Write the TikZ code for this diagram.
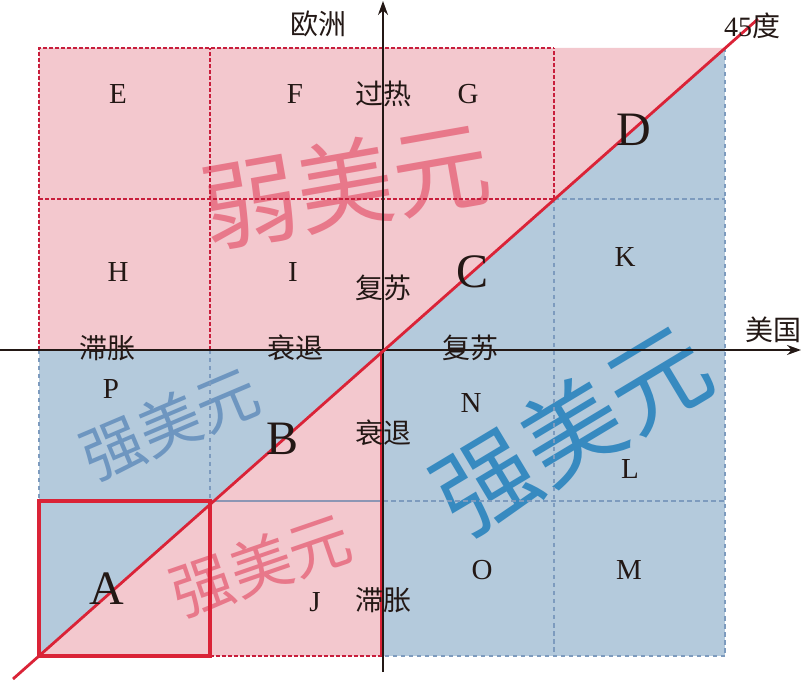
\documentclass[tikz,border=0pt]{standalone}
\usepackage{fontspec}
\setmainfont{Liberation Serif}
\newfontfamily\cjk{Noto Sans CJK SC}
\usetikzlibrary{arrows.meta}
\definecolor{pinkbg}{RGB}{243,200,206}
\definecolor{bluebg}{RGB}{180,202,220}
\definecolor{redline}{RGB}{218,35,55}
\definecolor{reddash}{RGB}{200,30,60}
\definecolor{bluedash}{RGB}{125,155,190}
\definecolor{greyline}{RGB}{140,150,180}
\definecolor{pinkmark}{RGB}{232,120,138}
\definecolor{bluemark}{RGB}{110,150,192}
\definecolor{bigmark}{RGB}{55,138,192}
\definecolor{ink}{RGB}{35,24,21}

\begin{document}
\begin{tikzpicture}[x=1pt,y=1pt,
  rgrid/.style={reddash,dash pattern=on 3.5pt off 2.5pt,line width=1.6pt},
  bgrid/.style={bluedash,dash pattern=on 4.5pt off 3.5pt,line width=1.5pt},
  lbl/.style={font=\fontsize{29}{29}\selectfont,text=ink,inner sep=0pt},
  biglbl/.style={font=\fontsize{48}{48}\selectfont,text=ink,inner sep=0pt},
  cn/.style={font=\cjk\fontsize{28}{28}\selectfont,text=ink,inner sep=0pt},
  wmark/.style={font=\cjk\fontsize{#1}{#1}\selectfont,inner sep=0pt},
  axis/.style={ink,line width=1.6pt,-{Stealth[length=14pt,width=10pt]}}]
\useasboundingbox (0,0) rectangle (803,680);
% background
\fill[bluebg] (39,24) rectangle (725,632);
\fill[pinkbg] (39,632) -- (725,632) -- (383,330) -- (39,330) -- cycle;
\fill[pinkbg] (383,330) -- (383,24) -- (39,24) -- cycle;
% watermarks
\node[wmark=97,text=pinkmark,rotate=10] (weak) at (345,495) {弱美元};
\node[wmark=62,text=bluemark,rotate=23] (strong1) at (170,256) {强美元};
\node[wmark=62,text=pinkmark,rotate=19] (strong2) at (261,115) {强美元};
\node[wmark=100,text=bigmark,rotate=31] (strong3) at (572,250) {强美元};
% grid
\draw[rgrid] (39,330) -- (39,632) -- (554,632);
\draw[rgrid] (210,330) -- (210,632);
\draw[rgrid] (554,481) -- (554,632);
\draw[rgrid] (39,481) -- (554,481);
\draw[rgrid] (210,24) -- (383,24);
\draw[bgrid] (725,632) -- (725,24) -- (383,24);
\draw[bgrid] (554,481) -- (554,24);
\draw[bgrid] (554,481) -- (725,481);
\draw[bgrid] (39,330) -- (39,179);
\draw[bgrid] (210,330) -- (210,179);
\draw[bgrid] (383,179) -- (725,179);
\draw[greyline,line width=1.5pt] (210,179) -- (383,179);
\draw[redline,line width=2pt] (381,330) -- (381,24);
% axes
\coordinate (xs) at (0,330);
\coordinate (xe) at (801,330);
\coordinate (ys) at (383,8);
\coordinate (ye) at (383,679);
\draw[axis] (xs) -- (xe);
\draw[axis] (ys) -- (ye);
% box A and 45 degree line
\draw[redline,line width=3.5pt] (39,24) rectangle (210,179);
\coordinate (d0) at (13,1);
\coordinate (d1) at (758,661);
\draw[redline,line width=2.8pt] (d0) -- (d1);
% labels
\foreach \n/\x/\y in {E/118/586,F/295/586,G/468/586,H/118/408,I/293/408,
  K/625/423,P/111/291,N/471/277,L/630/211,J/315/78,O/482/110,M/629/110} {
  \node[lbl] (\n) at (\x,\y) {\n};
}
\foreach \n/\x/\y in {A/107/91,B/283/241,C/473/408,D/634/550} {
  \node[biglbl] (\n) at (\x,\y) {\n};
}
\foreach \n/\x/\y/\t in {gr/383/586/过热,fs1/383/392/复苏,zz1/107/332/滞胀,
  sh1/295/332/衰退,fs2/470/332/复苏,sh2/383/247/衰退,zz2/383/80/滞胀} {
  \node[cn] (\n) at (\x,\y) {\t};
}
\node[cn] (eu) at (318,656) {欧洲};
\node[cn] (us) at (773,350) {美国};
\node[cn] (deg) at (752,654) {{\rmfamily 45}度};
\end{tikzpicture}
\end{document}
